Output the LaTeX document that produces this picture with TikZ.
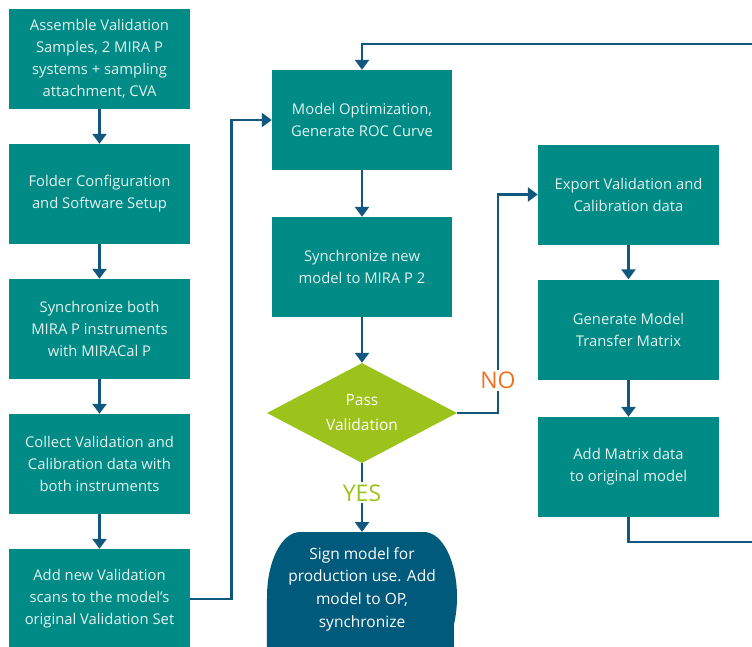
\documentclass[tikz,border=0pt]{standalone}
\usepackage{fontspec}
\setmainfont{Open Sans}
\usetikzlibrary{arrows.meta,shapes.geometric}
\definecolor{boxteal}{HTML}{008B86}
\definecolor{linkblue}{HTML}{12587E}
\definecolor{termblue}{HTML}{005A7C}
\definecolor{diagreen}{HTML}{9CC31C}
\definecolor{noorange}{HTML}{F0701E}
\definecolor{boxtext}{HTML}{E4F2F0}
\tikzset{
  stepbox/.style={rectangle, fill=boxteal, text=boxtext, minimum width=181pt, minimum height=100pt,
    align=center, font=\fontsize{14.8}{22}\selectfont, inner sep=0pt},
  decision/.style={diamond, fill=diagreen, text=white, minimum width=190pt, minimum height=100pt,
    aspect=1.9, align=center, font=\fontsize{15.5}{25}\selectfont, inner sep=0pt},
  termtext/.style={rectangle, text=white, minimum width=190pt, minimum height=114pt,
    align=center, font=\fontsize{15.5}{22.7}\selectfont, inner sep=0pt},
  link/.style={draw=linkblue, line width=2.6pt, -{Triangle[width=14pt,length=10pt]}},
  lbl/.style={fill=white, inner sep=2pt, font=\fontsize{23}{24}\selectfont}
}
\begin{document}
\begin{tikzpicture}[x=1pt,y=-1pt]
\useasboundingbox (0,0) rectangle (752,646);
% left column
\node[stepbox] (a1) at (99.5,59) {Assemble Validation\\Samples, 2 MIRA P\\systems + sampling\\attachment, CVA};
\node[stepbox] (a2) at (99.5,194) {Folder Configuration\\and Software Setup};
\node[stepbox] (a3) at (99.5,329) {Synchronize both\\MIRA P instruments\\with MIRACal P};
\node[stepbox] (a4) at (99.5,464) {Collect Validation and\\Calibration data with\\both instruments};
\node[stepbox] (a5) at (99.5,599) {Add new Validation\\scans to the model’s\\original Validation Set};
% middle column
\node[stepbox, minimum width=180pt] (m1) at (362,120) {Model Optimization,\\Generate ROC Curve};
\node[stepbox, minimum width=180pt] (m2) at (362,267) {Synchronize new\\model to MIRA P 2};
\node[decision] (d) at (362,413) {Pass\\Validation};
\fill[termblue] (300,532) -- (424,532) arc[start angle=90,end angle=0,x radius=33pt,y radius=65pt]
  arc[start angle=0,end angle=-25,x radius=33pt,y radius=65pt] -- (454,680) -- (270,680)
  arc[start angle=205,end angle=180,x radius=33pt,y radius=65pt]
  -- (267,597) arc[start angle=180,end angle=90,x radius=33pt,y radius=65pt] -- cycle;
\node[termtext, anchor=north] (t) at (362,532) {Sign model for\\production use. Add\\model to OP,\\synchronize};
% right column
\node[stepbox] (r1) at (628.5,194.5) {Export Validation and\\Calibration data};
\node[stepbox] (r2) at (628.5,329.5) {Generate Model\\Transfer Matrix};
\node[stepbox] (r3) at (628.5,467) {Add Matrix data\\to original model};
% connectors
\draw[link] (a1) -- (a2);
\draw[link] (a2) -- (a3);
\draw[link] (a3) -- (a4);
\draw[link] (a4) -- (a5);
\draw[link] (a5.east) -- ++(41,0) |- (m1.west);
\draw[link] (m1) -- (m2);
\draw[link] (m2) -- (d.north);
\draw[link] (d.south) -- (t.north) node[lbl, text=diagreen, pos=0.43] {YES};
\draw[link] (d.east) -- (498,413) |- (r1.west) node[lbl, text=noorange, pos=0.075] {NO};
\draw[link] (r1) -- (r2);
\draw[link] (r2) -- (r3);
\draw[link] (r3.south) |- (800,542) |- (362,44) -- (m1.north);
\end{tikzpicture}
\end{document}
